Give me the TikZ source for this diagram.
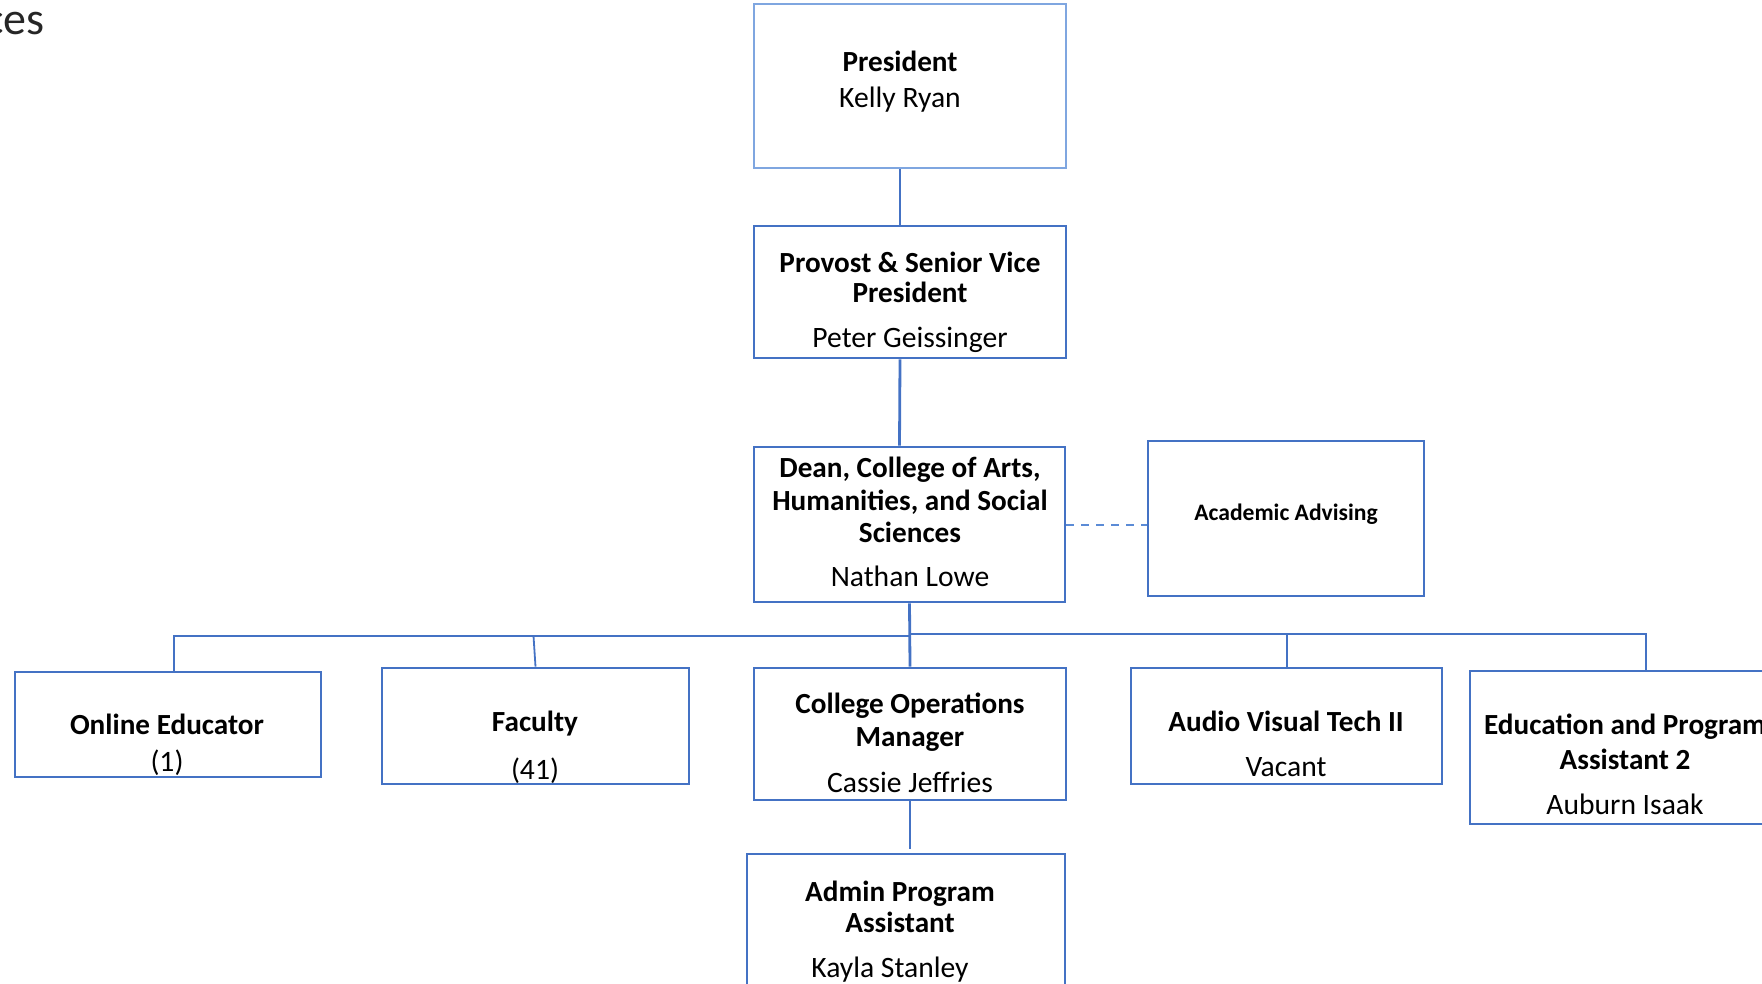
\documentclass[tikz,border=0pt]{standalone}
\usepackage{fontspec}
\setmainfont{Carlito}
\definecolor{obl}{HTML}{4472C4}
\definecolor{lbl}{HTML}{7FA6E0}
\definecolor{dbl}{HTML}{5B8BD6}
\begin{document}
\begin{tikzpicture}[x=0.5pt,y=-0.5pt,
  box/.style={draw=obl,line width=1.4pt,rectangle,inner sep=0pt,fill=white},
  conn/.style={draw=obl,line width=1.4pt},
  ttl/.style={anchor=base,font=\fontsize{14.6}{17}\selectfont\bfseries,inner sep=0pt},
  nm/.style={anchor=base,font=\fontsize{14.8}{17}\selectfont,inner sep=0pt},
  sml/.style={anchor=base,font=\fontsize{11.8}{14}\selectfont\bfseries,inner sep=0pt}]
\useasboundingbox (0,0) rectangle (1762,984);
\clip (0,0) rectangle (1762,984);
% heading fragment
\node[anchor=base east,inner sep=0pt,font=\fontsize{23}{27}\selectfont,text=black!85] (hdr) at (45,35) {ces};
% boxes
\node[box,draw=lbl,minimum width=156pt,minimum height=82pt] (pres) at (910,86) {};
\node[box,minimum width=156pt,minimum height=66pt] (prov) at (910,292) {};
\node[box,minimum width=155.5pt,minimum height=77.5pt] (dean) at (909.5,524.5) {};
\node[box,minimum width=138pt,minimum height=77.5pt] (aa) at (1286,518.5) {};
\node[box,minimum width=153pt,minimum height=52.5pt] (online) at (168,724.5) {};
\node[box,minimum width=153.5pt,minimum height=58pt] (fac) at (535.5,726) {};
\node[box,minimum width=156pt,minimum height=66pt] (col) at (910,734) {};
\node[box,minimum width=155.5pt,minimum height=58pt] (av) at (1286.5,726) {};
\node[box,minimum width=155pt,minimum height=76.5pt] (edu) at (1625,747.5) {};
\node[box,minimum width=159pt,minimum height=80pt] (admin) at (906,934) {};
% connectors
\coordinate (jL) at (910,636);
\coordinate (jR) at (910,634);
\draw[conn] ([xshift=-5pt]pres.south) -- ([xshift=-5pt]prov.north);
\draw[conn] ([xshift=-5pt]prov.south) -- ([xshift=-5pt]dean.north);
\draw[conn] (dean.south) -- (col.north);
\draw[conn] ([xshift=3pt]online.north) |- (jL);
\draw[conn,line width=0.9pt] (fac.north) -- ([xshift=-1pt]fac.north |- jL);
\draw[conn] ([xshift=10.5pt]edu.north) |- (jR);
\draw[conn,line width=1pt] (av.north) -- (av.north |- jR);
\draw[conn,line width=1pt] (col.south) -- ([yshift=2pt]col.south |- admin.north);
\draw[draw=dbl,line width=1pt,dash pattern=on 4pt off 3.5pt] (dean.east) -- (dean.east -| aa.west);
% texts
\node[ttl] (t1) at (900,72) {President};
\node[nm] (n1) at (900,108) {Kelly Ryan};
\node[ttl] (t2a) at (910,273) {Provost \& Senior Vice};
\node[ttl] (t2b) at (910,303) {President};
\node[nm] (n2) at (910,348) {Peter Geissinger};
\node[ttl] (t3a) at (910,477) {Dean, College of Arts,};
\node[ttl] (t3b) at (910,510) {Humanities, and Social};
\node[ttl] (t3c) at (910,542) {Sciences};
\node[nm] (n3) at (910,586) {Nathan Lowe};
\node[sml] (t4) at (1286,520) {Academic Advising};
\node[ttl] (t5) at (167,734) {Online Educator};
\node[nm] (n5) at (167,771) {(1)};
\node[ttl] (t6) at (535,731) {Faculty};
\node[nm] (n6) at (535,779) {(41)};
\node[ttl] (t7a) at (910,713) {College Operations};
\node[ttl] (t7b) at (910,746) {Manager};
\node[nm] (n7) at (910,792) {Cassie Jeffries};
\node[ttl] (t8) at (1286,731) {Audio Visual Tech II};
\node[nm] (n8) at (1286,776) {Vacant};
\node[ttl] (t9a) at (1625,734) {Education and Program};
\node[ttl] (t9b) at (1625,769) {Assistant 2};
\node[nm] (n9) at (1625,814) {Auburn Isaak};
\node[ttl] (t10a) at (900,901) {Admin Program};
\node[ttl] (t10b) at (900,932) {Assistant};
\node[nm] (n10) at (890,977) {Kayla Stanley};
\end{tikzpicture}
\end{document}
